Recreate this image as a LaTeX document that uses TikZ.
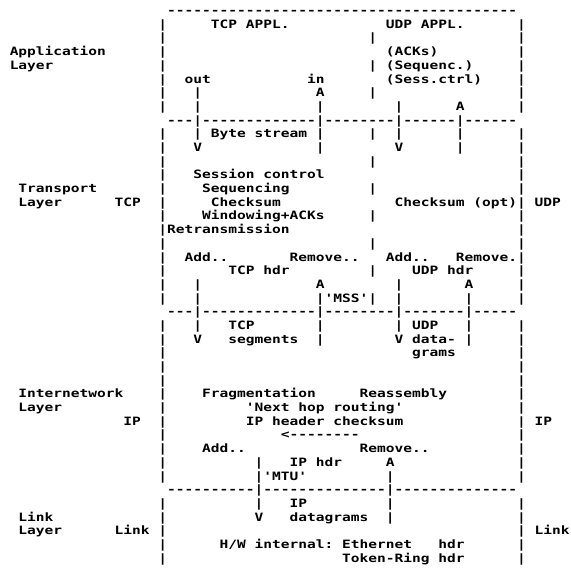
\documentclass[tikz,border=0pt]{standalone}
\usepackage{fontspec}
\usepackage{graphicx}
\setmonofont{DejaVu Sans Mono}
\newcommand\asgap[1]{\kern#1\dimexpr0.60205em\relax}
\tikzset{asc/.style={anchor=base west, inner sep=0pt, outer sep=0pt,
  font=\ttfamily\bfseries\fontsize{11.5}{13.7}\selectfont}}
\newcommand\asline[2]{\node[asc] (l#1) at (1,{-13.69*#1-14.6}) {\frenchspacing\scalebox{1.26379}[1]{#2}};}
\begin{document}
\begin{tikzpicture}[x=1pt,y=1pt]
\fill[white] (0,0) rectangle (571,-570);
\useasboundingbox (0,0) rectangle (571,-570);
\asline{0}{\asgap{19}----------------------------------------}
\asline{1}{\asgap{18}|\asgap{5}TCP APPL.\asgap{11}UDP APPL.\asgap{6}|}
\asline{2}{\asgap{18}|\asgap{23}|\asgap{16}|}
\asline{3}{\asgap{1}Application\asgap{6}|\asgap{25}(ACKs)\asgap{9}|}
\asline{4}{\asgap{1}Layer\asgap{12}|\asgap{23}|\asgap{1}(Sequenc.)\asgap{5}|}
\asline{5}{\asgap{18}|\asgap{2}out\asgap{11}in\asgap{7}(Sess.ctrl)\asgap{4}|}
\asline{6}{\asgap{18}|\asgap{3}|\asgap{13}A\asgap{5}|\asgap{16}|}
\asline{7}{\asgap{18}|\asgap{3}|\asgap{13}|\asgap{8}|\asgap{6}A\asgap{6}|}
\asline{8}{\asgap{19}---|-------------|--------|------|------}
\asline{9}{\asgap{18}|\asgap{3}|\asgap{1}Byte\asgap{1}stream\asgap{1}|\asgap{5}|\asgap{2}|\asgap{6}|\asgap{6}|}
\asline{10}{\asgap{18}|\asgap{3}V\asgap{13}|\asgap{8}V\asgap{6}|\asgap{6}|}
\asline{11}{\asgap{18}|\asgap{23}|\asgap{16}|}
\asline{12}{\asgap{18}|\asgap{3}Session\asgap{1}control\asgap{22}|}
\asline{13}{\asgap{2}Transport\asgap{7}|\asgap{4}Sequencing\asgap{9}|\asgap{16}|}
\asline{14}{\asgap{2}Layer\asgap{6}TCP\asgap{2}|\asgap{5}Checksum\asgap{13}Checksum\asgap{1}(opt)|\asgap{1}UDP}
\asline{15}{\asgap{18}|\asgap{4}Windowing+ACKs\asgap{5}|\asgap{16}|}
\asline{16}{\asgap{18}|Retransmission\asgap{26}|}
\asline{17}{\asgap{18}|\asgap{23}|\asgap{16}|}
\asline{18}{\asgap{18}|\asgap{2}Add..\asgap{7}Remove..\asgap{3}Add..\asgap{3}Remove.|}
\asline{19}{\asgap{18}|\asgap{7}TCP\asgap{1}hdr\asgap{9}|\asgap{4}UDP\asgap{1}hdr\asgap{5}|}
\asline{20}{\asgap{18}|\asgap{3}|\asgap{13}A\asgap{8}|\asgap{7}A\asgap{5}|}
\asline{21}{\asgap{18}|\asgap{3}|\asgap{13}|'MSS'|\asgap{2}|\asgap{7}|\asgap{5}|}
\asline{22}{\asgap{19}---|-------------|--------|-------|-----}
\asline{23}{\asgap{18}|\asgap{3}|\asgap{3}TCP\asgap{7}|\asgap{8}|\asgap{1}UDP\asgap{3}|\asgap{5}|}
\asline{24}{\asgap{18}|\asgap{3}V\asgap{3}segments\asgap{2}|\asgap{8}V\asgap{1}data-\asgap{1}|\asgap{5}|}
\asline{25}{\asgap{18}|\asgap{28}grams\asgap{7}|}
\asline{26}{\asgap{18}|\asgap{40}|}
\asline{27}{\asgap{18}|\asgap{40}|}
\asline{28}{\asgap{2}Internetwork\asgap{4}|\asgap{4}Fragmentation\asgap{5}Reassembly\asgap{8}|}
\asline{29}{\asgap{2}Layer\asgap{11}|\asgap{9}'Next\asgap{1}hop\asgap{1}routing'\asgap{13}|}
\asline{30}{\asgap{14}IP\asgap{2}|\asgap{9}IP\asgap{1}header\asgap{1}checksum\asgap{13}|\asgap{1}IP}
\asline{31}{\asgap{18}|\asgap{13}<--------\asgap{18}|}
\asline{32}{\asgap{18}|\asgap{4}Add..\asgap{13}Remove..\asgap{10}|}
\asline{33}{\asgap{18}|\asgap{10}|\asgap{3}IP\asgap{1}hdr\asgap{5}A\asgap{14}|}
\asline{34}{\asgap{18}|\asgap{10}|'MTU'\asgap{9}|\asgap{14}|}
\asline{35}{\asgap{19}----------|--------------|--------------}
\asline{36}{\asgap{18}|\asgap{10}|\asgap{3}IP\asgap{9}|\asgap{14}|}
\asline{37}{\asgap{2}Link\asgap{12}|\asgap{10}V\asgap{3}datagrams\asgap{2}|\asgap{14}|}
\asline{38}{\asgap{2}Layer\asgap{6}Link\asgap{1}|\asgap{40}|\asgap{1}Link}
\asline{39}{\asgap{18}|\asgap{6}H/W\asgap{1}internal:\asgap{1}Ethernet\asgap{3}hdr\asgap{6}|}
\asline{40}{\asgap{18}|\asgap{20}Token-Ring\asgap{1}hdr\asgap{6}|}
\end{tikzpicture}
\end{document}
